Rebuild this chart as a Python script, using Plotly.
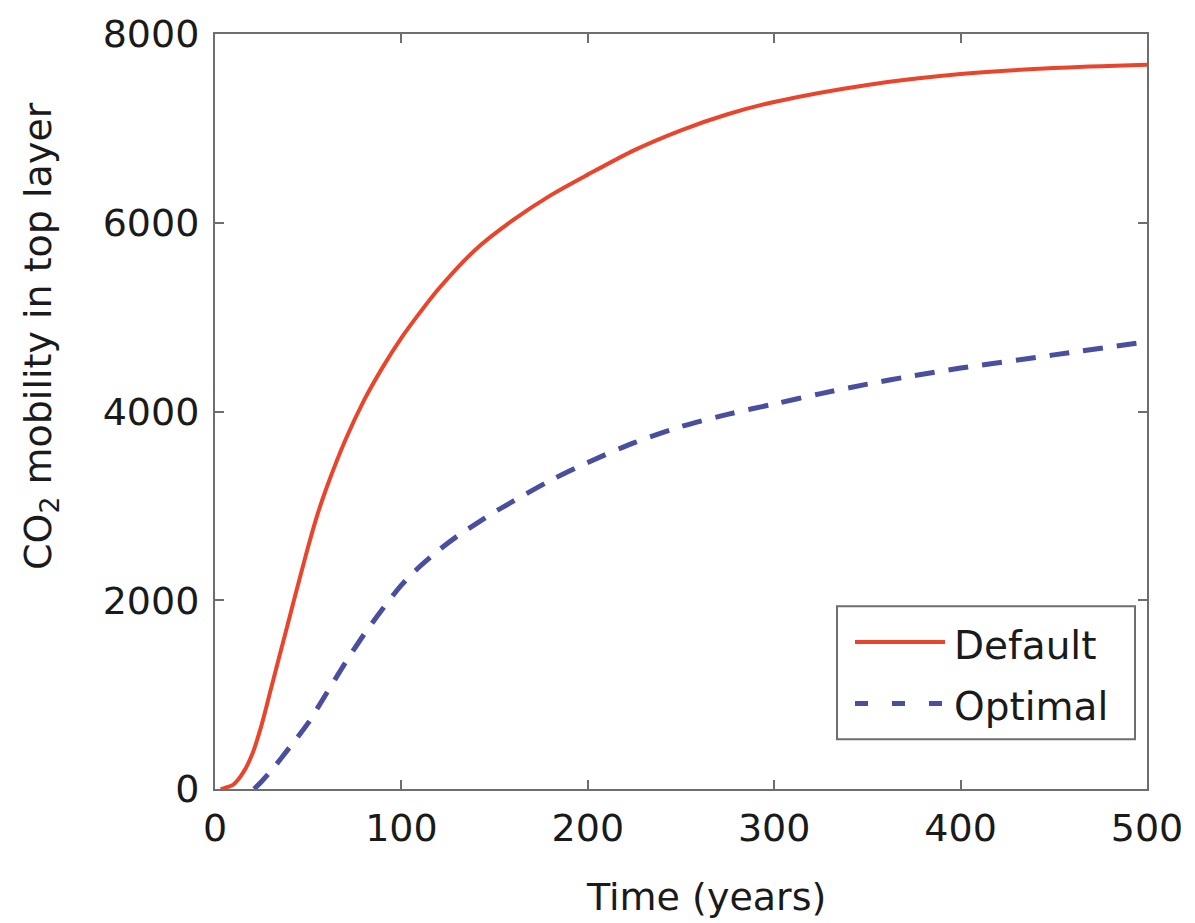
import plotly.graph_objects as go

# ---- data ----
time_default = [3, 5, 10, 15, 20, 25, 30, 35, 40, 45, 50, 55, 60, 70, 80, 90, 100, 110, 120,
                140, 160, 180, 200, 225, 250, 275, 300, 350, 400, 450, 500]
mobility_default = [0, 10, 50, 170, 370, 680, 1060, 1440, 1820, 2200, 2570, 2910, 3200, 3700,
                    4120, 4470, 4780, 5050, 5300, 5720, 6030, 6290, 6510, 6770, 6980, 7150,
                    7280, 7460, 7575, 7640, 7675]

time_optimal = [21, 25, 30, 40, 50, 60, 70, 80, 90, 100, 110, 120, 130, 140, 150, 160, 180,
                200, 225, 250, 275, 300, 325, 350, 375, 400, 450, 500]
mobility_optimal = [0, 80, 190, 440, 700, 1020, 1340, 1640, 1910, 2160, 2360, 2530, 2680, 2810,
                    2935, 3050, 3270, 3460, 3670, 3840, 3970, 4080, 4190, 4290, 4380, 4460,
                    4600, 4740]

x_ticks = [0, 100, 200, 300, 400, 500]
y_ticks = [0, 2000, 4000, 6000, 8000]
series_names = ["Default", "Optimal"]

RED = "#E8452C"
BLUE = "#4A4E9E"
AXIS = "#6E6E6E"
FONT = "DejaVu Sans"
TXT = "#1A1A1A"

W, H = 1195, 923
L, R, T, B = 215, 48, 29, 134
PW, PH = W - L - R, H - T - B


def px(x):
    return (x - L) / PW


def py(y):
    return (H - B - y) / PH


fig = go.Figure()
fig.add_trace(go.Scatter(x=time_default, y=mobility_default, mode="lines", name=series_names[0],
                         line=dict(color=RED, width=4, shape="spline", smoothing=0.8),
                         showlegend=False))
fig.add_trace(go.Scatter(x=time_optimal, y=mobility_optimal, mode="lines", name=series_names[1],
                         line=dict(color=BLUE, width=5, dash="20px,14px", shape="spline",
                                   smoothing=0.8),
                         showlegend=False))

axis_common = dict(showline=True, linewidth=2, linecolor=AXIS, mirror="allticks",
                   ticks="inside", ticklen=9, tickwidth=2, tickcolor=AXIS,
                   showgrid=False, zeroline=False,
                   tickfont=dict(family=FONT, size=38, color=TXT))

fig.update_xaxes(range=[0, 500], tickvals=x_ticks, ticklabelstandoff=4, **axis_common)
fig.update_yaxes(range=[0, 8000], tickvals=y_ticks, ticklabelstandoff=6, **axis_common)

# axis titles
fig.add_annotation(text="Time (years)", xref="paper", yref="paper",
                   x=px(706), y=py(898), xanchor="center", yanchor="middle",
                   showarrow=False, font=dict(family=FONT, size=38, color=TXT))
fig.add_annotation(text="CO<sub>2</sub> mobility in top layer", xref="paper", yref="paper",
                   x=px(40), y=py(333), xanchor="center", yanchor="middle", textangle=-90,
                   showarrow=False, font=dict(family=FONT, size=38, color=TXT))

# boxed legend, mimicking the reference
shapes = [
    dict(type="rect", xref="paper", yref="paper", x0=px(837), x1=px(1135), y0=py(739), y1=py(605),
         line=dict(color=AXIS, width=2), fillcolor="white", layer="above"),
    dict(type="line", xref="paper", yref="paper", x0=px(855), x1=px(945), y0=py(641), y1=py(641),
         line=dict(color=RED, width=4), layer="above"),
    dict(type="line", xref="paper", yref="paper", x0=px(855), x1=px(945), y0=py(703), y1=py(703),
         line=dict(color=BLUE, width=5, dash="13px,24px"), layer="above"),
]
fig.update_layout(shapes=shapes)
fig.add_annotation(text=series_names[0], xref="paper", yref="paper", x=px(952), y=py(645),
                   xanchor="left", yanchor="middle", showarrow=False,
                   font=dict(family=FONT, size=39, color=TXT))
fig.add_annotation(text=series_names[1], xref="paper", yref="paper", x=px(952), y=py(706),
                   xanchor="left", yanchor="middle", showarrow=False,
                   font=dict(family=FONT, size=39, color=TXT))

fig.update_layout(width=W, height=H, margin=dict(l=L, r=R, t=T, b=B, pad=0),
                  paper_bgcolor="white", plot_bgcolor="white", showlegend=False)

fig.write_html("out.html")
